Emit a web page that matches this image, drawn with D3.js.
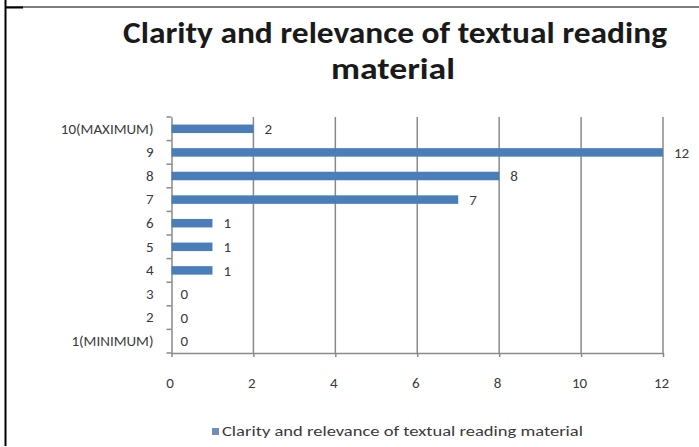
<!DOCTYPE html>
<html>
<head>
<meta charset="utf-8">
<script src="https://cdn.jsdelivr.net/npm/d3@7"></script>
<style>
  html, body { margin: 0; padding: 0; background: #fff; }
  svg { display: block; }
</style>
</head>
<body>
<div id="chart"></div>
<script>
// data
const categories = ["10(MAXIMUM)", "9", "8", "7", "6", "5", "4", "3", "2", "1(MINIMUM)"];
const values = [2, 12, 8, 7, 1, 1, 1, 0, 0, 0];
const xTicks = [0, 2, 4, 6, 8, 10, 12];
const titleLines = ["Clarity and relevance of textual reading", "material"];
const seriesName = "Clarity and relevance of textual reading material";

const W = 699, H = 447;
const font = "Calibri, Carlito, 'Liberation Sans', Arial, sans-serif";

const svg = d3.select("#chart").append("svg")
  .attr("width", W)
  .attr("height", H);

svg.append("rect").attr("width", W).attr("height", H).attr("fill", "#fff");

// frame lines of the document
svg.append("line").attr("x1", 6).attr("x2", W).attr("y1", 7).attr("y2", 7)
  .attr("stroke", "#000").attr("stroke-width", 1);
svg.append("rect").attr("x", 6).attr("y", 6.5).attr("width", 17).attr("height", 2).attr("fill", "#000");
svg.append("rect").attr("x", 4.5).attr("y", 0).attr("width", 2).attr("height", H - 1).attr("fill", "#000");

// plot area
const plot = { left: 171.5, right: 663, top: 117, bottom: 353 };

const x = d3.scaleLinear().domain([0, 12]).range([plot.left, plot.right]);
const y = d3.scaleBand().domain(categories).range([plot.top, plot.bottom]).padding(0);

const axisColor = "#8a8a8a";
const labelColor = "#3a3a3a";

// vertical gridlines
svg.append("g")
  .selectAll("line")
  .data(xTicks.slice(1))
  .join("line")
  .attr("x1", d => x(d)).attr("x2", d => x(d))
  .attr("y1", plot.top).attr("y2", plot.bottom)
  .attr("stroke", axisColor)
  .attr("stroke-width", 1.5);

// x axis
const xAxis = svg.append("g")
  .attr("transform", `translate(0,${plot.bottom})`)
  .call(d3.axisBottom(x).tickValues(xTicks).tickSize(4).tickPadding(20).tickSizeOuter(0));
xAxis.select(".domain").attr("stroke", axisColor).attr("stroke-width", 1.5);
xAxis.selectAll(".tick line").attr("stroke", axisColor).attr("stroke-width", 1.5);
xAxis.selectAll("text")
  .attr("dx", -2)
  .attr("font-family", font)
  .attr("font-size", 15)
  .attr("fill", labelColor);

// y axis, ticks on band borders
const yAxis = svg.append("g")
  .attr("transform", `translate(${plot.left},0)`)
  .call(d3.axisLeft(y).tickSize(0).tickPadding(18));
yAxis.select(".domain").attr("stroke", axisColor).attr("stroke-width", 1.5);
yAxis.selectAll("text")
  .attr("font-family", font)
  .attr("font-size", 15)
  .attr("fill", labelColor);
yAxis.selectAll(".border")
  .data(categories.concat([null]))
  .join("line")
  .attr("class", "border")
  .attr("x1", -5).attr("x2", 0)
  .attr("y1", (d, i) => i < categories.length ? y(d) : plot.bottom)
  .attr("y2", (d, i) => i < categories.length ? y(d) : plot.bottom)
  .attr("stroke", axisColor)
  .attr("stroke-width", 1.5);

// bars
const barH = 8.5;
svg.append("g")
  .selectAll("rect")
  .data(values)
  .join("rect")
  .attr("x", x(0))
  .attr("y", (d, i) => y(categories[i]) + y.bandwidth() / 2 - barH / 2)
  .attr("width", d => x(d) - x(0))
  .attr("height", barH)
  .attr("fill", "#4a7ebb");

// value labels
svg.append("g")
  .selectAll("text")
  .data(values)
  .join("text")
  .attr("x", d => x(d) + (d > 0 ? 11 : 9))
  .attr("y", (d, i) => y(categories[i]) + y.bandwidth() / 2)
  .attr("dy", "0.35em")
  .attr("font-family", font)
  .attr("font-size", 15)
  .attr("fill", labelColor)
  .text(d => d);

// title
const title = svg.append("g")
  .attr("font-family", font)
  .attr("font-weight", "bold")
  .attr("fill", "#1a1a1a")
  .attr("text-anchor", "middle");
title.append("text")
  .attr("x", 395).attr("y", 43)
  .attr("font-size", 31)
  .attr("textLength", 544)
  .attr("lengthAdjust", "spacingAndGlyphs")
  .text(titleLines[0]);
title.append("text")
  .attr("x", 393).attr("y", 79)
  .attr("font-size", 31)
  .attr("textLength", 124)
  .attr("lengthAdjust", "spacingAndGlyphs")
  .text(titleLines[1]);

// legend
const legend = svg.append("g").attr("transform", "translate(212,428)");
legend.append("rect")
  .attr("width", 7).attr("height", 7)
  .attr("fill", "#6f8fb5");
legend.append("text")
  .attr("x", 10).attr("y", 8)
  .attr("font-family", font)
  .attr("font-size", 13.5)
  .attr("fill", labelColor)
  .attr("textLength", 361)
  .attr("lengthAdjust", "spacingAndGlyphs")
  .text(seriesName);
</script>
</body>
</html>
